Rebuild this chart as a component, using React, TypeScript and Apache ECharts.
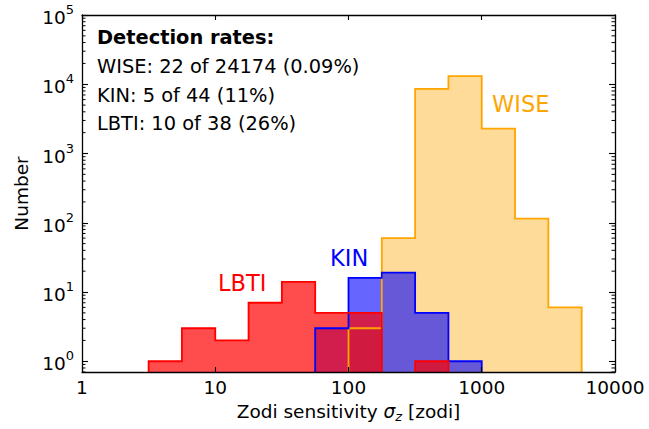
import React, { useEffect, useRef } from "react";
import * as echarts from "echarts";

// Histogram bin edges (zodi), equal widths in log space
const binEdges = [3.162, 5.623, 10, 17.78, 31.62, 56.23, 100, 177.8, 316.2, 562.3, 1000, 1778, 3162, 5623];
// Counts per bin
const wiseCounts = [0, 0, 0, 0, 0, 0, 3, 60, 8600, 13100, 2290, 115, 6];
const kinCounts = [0, 0, 0, 0, 0, 3, 16, 19, 5, 1, 0, 0, 0];
const lbtiCounts = [1, 3, 2, 7, 14, 5, 5, 0, 1, 0, 0, 0, 0];

const xTickLabels = ["1", "10", "100", "1000", "10000"];
const annotationLines = [
  "Detection rates:",
  "WISE: 22 of 24174 (0.09%)",
  "KIN: 5 of 44 (11%)",
  "LBTI: 10 of 38 (26%)",
];

const X_MIN = 1;
const X_MAX = 10000;
const Y_MIN = 0.7;
const Y_MAX = 100000;
const FONT = "DejaVu Sans";

const WISE_EDGE = "#ffa500";
const KIN_EDGE = "#0000ff";
const LBTI_EDGE = "#ff0000";

function stepPoints(counts: number[], bottom: number): number[][] {
  const pts: number[][] = [[binEdges[0], bottom]];
  counts.forEach((c, i) => {
    const v = c > 0 ? c : bottom;
    pts.push([binEdges[i], v], [binEdges[i + 1], v]);
  });
  pts.push([binEdges[binEdges.length - 1], bottom]);
  return pts;
}

function fillSeries(counts: number[], color: string, z: number) {
  return {
    type: "custom",
    clip: true,
    silent: true,
    z,
    data: [[binEdges[0], 1]],
    encode: { x: 0, y: 1 },
    renderItem: (_p: any, api: any) => {
      const pts = stepPoints(counts, Y_MIN).map((p) => api.coord(p));
      return { type: "polygon", shape: { points: pts }, style: { fill: color, stroke: null, lineWidth: 0 } };
    },
  };
}

function edgeSeries(counts: number[], color: string, z: number) {
  return {
    type: "custom",
    clip: true,
    silent: true,
    z,
    data: [[binEdges[0], 1]],
    encode: { x: 0, y: 1 },
    renderItem: (_p: any, api: any) => {
      const pts = stepPoints(counts, 0.3).map((p) => api.coord(p));
      return {
        type: "polyline",
        shape: { points: pts },
        style: { fill: null, stroke: color, lineWidth: 1.8, lineJoin: "miter" },
      };
    },
  };
}

const minorVals: number[] = [];
for (let k = -1; k <= 4; k++) {
  for (let m = 2; m <= 9; m++) {
    const v = m * Math.pow(10, k);
    if (v > Y_MIN && v < Y_MAX) minorVals.push(v);
  }
}

export default function App() {
  const ref = useRef<HTMLDivElement>(null);
  useEffect(() => {
    if (!ref.current) return;
    const chart = echarts.init(ref.current, undefined, { renderer: "svg" });
    const axisLine = { show: true, onZero: false, lineStyle: { color: "#000", width: 1.3 } };
    const tickStyle = { color: "#000", width: 1.1 };
    const yLabelFmt = (v: number) => {
      const l = Math.log10(v);
      const n = Math.round(l);
      if (Math.abs(l - n) > 1e-6) return "";
      return `{b|10}{s|${n}}`;
    };
    const xLabelFmt = (v: number) => {
      const l = Math.log10(v);
      const n = Math.round(l);
      if (Math.abs(l - n) > 1e-6) return "";
      return xTickLabels[n] ?? "";
    };
    const option: any = {
      animation: false,
      backgroundColor: "#fff",
      textStyle: { fontFamily: FONT },
      grid: { left: 82, right: 34, top: 15, bottom: 57, containLabel: false, outerBoundsMode: "none" },
      xAxis: [
        {
          type: "log",
          logBase: 10,
          min: X_MIN,
          max: X_MAX,
          position: "bottom",
          z: 10,
          axisLine,
          axisTick: { show: true, inside: true, length: 5, lineStyle: tickStyle },
          minorTick: { show: false },
          splitLine: { show: false },
          axisLabel: { show: true, showMinLabel: true, showMaxLabel: true, fontSize: 18.5, color: "#000", fontFamily: FONT, margin: 6, formatter: xLabelFmt },
          name: "Zodi sensitivity {i|σ}{s|z} [zodi]",
          nameLocation: "middle",
          nameGap: 27,
          nameTextStyle: {
            fontSize: 18.5,
            color: "#000",
            fontFamily: FONT,
            rich: {
              i: { fontSize: 18.5, fontStyle: "italic", fontFamily: FONT, color: "#000" },
              s: { fontSize: 13, fontStyle: "italic", fontFamily: FONT, color: "#000", padding: [10, 0, 0, 0] },
            },
          },
        },
        {
          type: "log",
          logBase: 10,
          min: X_MIN,
          max: X_MAX,
          position: "top",
          z: 10,
          axisLine,
          axisTick: { show: true, inside: true, length: 5, lineStyle: tickStyle },
          splitLine: { show: false },
          axisLabel: { show: false },
        },
      ],
      yAxis: [
        {
          type: "log",
          logBase: 10,
          min: Y_MIN,
          max: Y_MAX,
          position: "left",
          z: 10,
          axisLine,
          axisTick: { show: true, inside: true, length: 6, lineStyle: tickStyle },
          splitLine: { show: false },
          axisLabel: {
            show: true,
            showMinLabel: false,
            fontSize: 18.5,
            color: "#000",
            fontFamily: FONT,
            margin: 8,
            formatter: yLabelFmt,
            rich: {
              b: { fontSize: 18.5, fontFamily: FONT, color: "#000", lineHeight: 24, verticalAlign: "bottom" },
              s: { fontSize: 13, fontFamily: FONT, color: "#000", lineHeight: 14, verticalAlign: "top" },
            },
          },
          name: "Number",
          nameLocation: "middle",
          nameGap: 50,
          nameRotate: 90,
          nameTextStyle: { fontSize: 18.5, color: "#000", fontFamily: FONT },
        },
        {
          type: "log",
          logBase: 10,
          min: Y_MIN,
          max: Y_MAX,
          position: "right",
          z: 10,
          axisLine,
          axisTick: { show: true, inside: true, length: 6, lineStyle: tickStyle },
          splitLine: { show: false },
          axisLabel: { show: false },
        },
      ],
      series: [
        fillSeries(wiseCounts, "rgba(255,165,0,0.4)", 2),
        fillSeries(kinCounts, "rgba(0,0,255,0.6)", 2),
        fillSeries(lbtiCounts, "rgba(255,0,0,0.7)", 2),
        edgeSeries(wiseCounts, WISE_EDGE, 3),
        edgeSeries(kinCounts, KIN_EDGE, 3),
        edgeSeries(lbtiCounts, LBTI_EDGE, 3),
        {
          type: "custom",
          silent: true,
          clip: false,
          z: 11,
          data: minorVals.map((v) => [X_MIN, v]),
          encode: { x: 0, y: 1 },
          renderItem: (_p: any, api: any) => {
            const v = api.value(1);
            const p = api.coord([X_MIN, v]);
            const q = api.coord([X_MAX, v]);
            return {
              type: "group",
              children: [
                { type: "line", shape: { x1: p[0], y1: p[1], x2: p[0] + 3.5, y2: p[1] }, style: { stroke: "#000", lineWidth: 1 } },
                { type: "line", shape: { x1: q[0] - 3.5, y1: q[1], x2: q[0], y2: q[1] }, style: { stroke: "#000", lineWidth: 1 } },
              ],
            };
          },
        },
      ],
      graphic: [
        { type: "text", x: 97, y: 37, style: { text: annotationLines[0], fontSize: 19.4, fontWeight: "bold", fontFamily: FONT, fill: "#000", verticalAlign: "middle" } },
        { type: "text", x: 97, y: 66, style: { text: annotationLines[1], fontSize: 19.4, fontFamily: FONT, fill: "#000", verticalAlign: "middle" } },
        { type: "text", x: 97, y: 95, style: { text: annotationLines[2], fontSize: 19.4, fontFamily: FONT, fill: "#000", verticalAlign: "middle" } },
        { type: "text", x: 97, y: 123, style: { text: annotationLines[3], fontSize: 19.4, fontFamily: FONT, fill: "#000", verticalAlign: "middle" } },
        { type: "text", x: 492, y: 104, style: { text: "WISE", fontSize: 22.5, fontFamily: FONT, fill: WISE_EDGE, verticalAlign: "middle" } },
        { type: "text", x: 330, y: 258, style: { text: "KIN", fontSize: 22.5, fontFamily: FONT, fill: KIN_EDGE, verticalAlign: "middle" } },
        { type: "text", x: 218, y: 283, style: { text: "LBTI", fontSize: 22.5, fontFamily: FONT, fill: LBTI_EDGE, verticalAlign: "middle" } },
      ],
    };
    chart.setOption(option);
    return () => chart.dispose();
  }, []);
  return <div ref={ref} style={{ position: "absolute", left: 0, top: 0, width: 649, height: 429 }} />;
}
